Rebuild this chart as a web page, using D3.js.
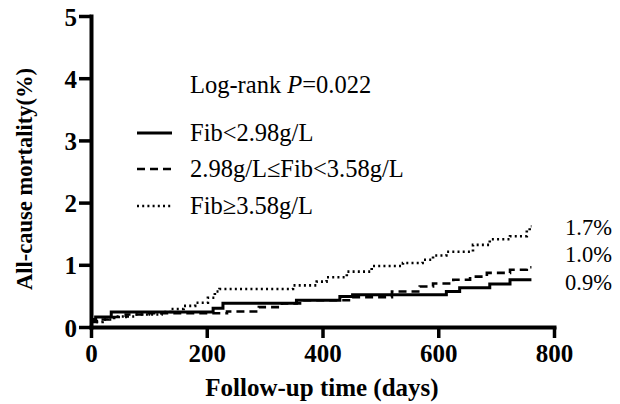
<!DOCTYPE html>
<html><head><meta charset="utf-8">
<script src="https://cdn.jsdelivr.net/npm/d3@7/dist/d3.min.js"></script>
<style>body{margin:0;background:#fff}svg{display:block}</style>
</head><body>
<svg id="c" width="620" height="404"></svg>
<script>
// ---- data ----
const groups = ["Fib<2.98g/L", "2.98g/L\u2264Fib<3.58g/L", "Fib\u22653.58g/L"];
const endLabels = ["0.9%", "1.0%", "1.7%"];
const xTicks = [0, 200, 400, 600, 800];
const yTicks = [0, 1, 2, 3, 4, 5];
const pText = "0.022";

const lowDays = [0, 8, 35, 211, 228, 355, 430, 452, 614, 637, 689, 724, 761];
const lowVals = [0.12, 0.16, 0.24, 0.30, 0.38, 0.43, 0.49, 0.52, 0.57, 0.63, 0.69, 0.76, 0.76];

const midDays = [0, 10, 30, 60, 100, 235, 290, 330, 365, 450, 520, 568, 591, 626, 655, 684, 724, 753, 761];
const midVals = [0.08, 0.12, 0.16, 0.20, 0.22, 0.25, 0.32, 0.38, 0.43, 0.48, 0.57, 0.65, 0.70, 0.76, 0.81, 0.87, 0.92, 0.96, 0.96];

const highDays = [0, 20, 40, 75, 122, 139, 160, 180, 202, 214, 222, 349, 390, 407, 442, 485, 539, 573, 591, 614, 660, 689, 724, 753, 758, 761];
const highVals = [0.08, 0.12, 0.17, 0.20, 0.24, 0.29, 0.34, 0.39, 0.47, 0.57, 0.61, 0.67, 0.73, 0.80, 0.89, 0.98, 1.03, 1.08, 1.15, 1.21, 1.32, 1.41, 1.46, 1.55, 1.62, 1.62];

// ---- layout ----
const svg = d3.select("#c");
const x = d3.scaleLinear().domain([0, 800]).range([91, 554]);
const y = d3.scaleLinear().domain([0, 5]).range([327, 16]);
const serif = "'Liberation Serif','Times New Roman',serif";

// curves
const series = [
  {d: lowDays, v: lowVals, dash: null, w: 3},
  {d: midDays, v: midVals, dash: "8,5", w: 2.6},
  {d: highDays, v: highVals, dash: "2,3.2", w: 2.6}
];
const line = d3.line().x(p => x(p[0])).y(p => y(p[1])).curve(d3.curveStepAfter);
series.forEach(s => {
  svg.append("path")
    .datum(s.d.map((dd, i) => [dd, s.v[i]]))
    .attr("d", line)
    .attr("fill", "none").attr("stroke", "#000")
    .attr("stroke-width", s.w)
    .attr("stroke-dasharray", s.dash);
});

// axes
const gx = svg.append("g").attr("transform", "translate(0,327)")
  .call(d3.axisBottom(x).tickValues(xTicks).tickFormat(d3.format("d")).tickSize(11).tickSizeOuter(0));
const gy = svg.append("g").attr("transform", "translate(91,0)")
  .call(d3.axisLeft(y).tickValues(yTicks).tickFormat(d3.format("d")).tickSize(12).tickSizeOuter(0));
[gx, gy].forEach(g => {
  g.select(".domain").attr("stroke-width", 4).attr("stroke", "#000");
  g.selectAll(".tick line").attr("stroke-width", 3.5).attr("stroke", "#000");
  g.selectAll(".tick text").attr("font-family", serif).attr("font-weight", "bold")
    .attr("font-size", 25).attr("fill", "#000");
});
gx.selectAll(".tick text").attr("y", 35).attr("dy", 0);
gy.selectAll(".tick text").attr("x", -14).attr("dy", "0.36em");
svg.selectAll(".domain").attr("stroke-linecap", "square");

// axis titles
svg.append("text").attr("x", 322).attr("y", 396).attr("text-anchor", "middle")
  .attr("font-family", serif).attr("font-weight", "bold").attr("font-size", 25)
  .text("Follow-up time (days)");
svg.append("text").attr("transform", "translate(32,179) rotate(-90)").attr("text-anchor", "middle")
  .attr("font-family", serif).attr("font-weight", "bold").attr("font-size", 22.5)
  .text("All-cause mortality(%)");

// log-rank
const lr = svg.append("text").attr("x", 190).attr("y", 93)
  .attr("font-family", serif).attr("font-size", 24.5);
lr.append("tspan").text("Log-rank ");
lr.append("tspan").attr("font-style", "italic").text("P");
lr.append("tspan").text("=" + pText);

// legend
const legY = [133, 169, 206];
groups.forEach((g, i) => {
  svg.append("line").attr("x1", 137).attr("x2", 172).attr("y1", legY[i]).attr("y2", legY[i])
    .attr("stroke", "#000").attr("stroke-width", series[i].w)
    .attr("stroke-dasharray", series[i].dash);
  svg.append("text").attr("x", 190).attr("y", legY[i] + 8)
    .attr("font-family", serif).attr("font-size", 24.5).text(g);
});

// end labels
const endY = [290, 262, 235];
endLabels.forEach((t, i) => {
  svg.append("text").attr("x", 565).attr("y", endY[i])
    .attr("font-family", serif).attr("font-size", 22.5).text(t);
});
</script>
</body></html>
